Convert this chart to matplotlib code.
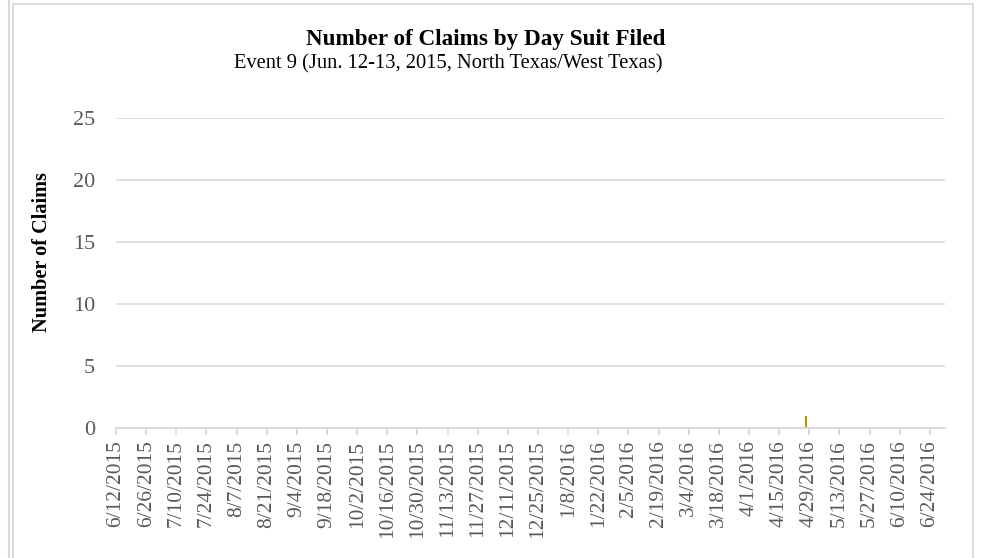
import matplotlib.pyplot as plt
import pandas as pd
from matplotlib.patches import Rectangle
from matplotlib.lines import Line2D

# data: one claim filed during the period, all other days zero
start = "2015-06-12"
end = "2016-06-30"
claim_dates = ["2016-04-27"]
claim_counts = [1]
y_ticks = [0, 5, 10, 15, 20, 25]

days = pd.date_range(start, end, freq="D")
counts = pd.Series(0, index=days)
for d, c in zip(claim_dates, claim_counts):
    counts[pd.Timestamp(d)] = c

plt.rcParams['font.family'] = ['Liberation Serif', 'DejaVu Serif']

fig = plt.figure(figsize=(9.81, 5.58), dpi=100)
ax = fig.add_axes([116 / 981, 1 - 428 / 558, (945 - 116) / 981, (428 - 118) / 558])

# bars centred in the middle of each day slot
x = counts.index + pd.Timedelta(hours=12)
ax.bar(x, counts.values, width=1.0, color="#C09300", linewidth=0)

ax.set_xlim(pd.Timestamp(start), pd.Timestamp(end) + pd.Timedelta(days=1))
ax.set_ylim(0, 25)
ax.set_yticks(y_ticks)

tick_days = pd.date_range(start, end, freq="14D")
ax.set_xticks(tick_days)
ax.set_xticklabels([f"{d.month}/{d.day}/{d.year}" for d in tick_days],
                   rotation=90, fontsize=15.4, color="#595959")
ax.tick_params(axis="x", length=5, color="#D9D9D9", width=1.3, pad=4)
ax.tick_params(axis="y", length=0, labelsize=16, labelcolor="#595959", pad=15)

ax.grid(axis="y", color="#D9D9D9", linewidth=1.2)
ax.set_axisbelow(True)
for s in ["top", "right", "left"]:
    ax.spines[s].set_visible(False)
ax.spines["bottom"].set_color("#D9D9D9")
ax.spines["bottom"].set_linewidth(1.3)

fig.text(42 / 981, 1 - 252 / 558, "Number of Claims", rotation=90,
         ha="center", va="center", fontsize=14.6, fontweight="bold")

fig.text(486 / 981, 1 - 40 / 558, "Number of Claims by Day Suit Filed",
         ha="center", va="center", fontsize=16.7, fontweight="bold")
fig.text(448 / 981, 1 - 64 / 558, "Event 9 (Jun. 12-13, 2015, North Texas/West Texas)",
         ha="center", va="center", fontsize=14.8)

# chart frame
fig.patches.append(Rectangle((13 / 981, -0.1), (973 - 13) / 981, 1.1 - 4.5 / 558,
                             transform=fig.transFigure, fill=False,
                             edgecolor="#D9D9D9", linewidth=1.3))
fig.lines.append(Line2D([9 / 981, 9 / 981], [0, 1], transform=fig.transFigure,
                        color="#D9D9D9", linewidth=1.5))

fig.savefig("out.png", dpi=100)
